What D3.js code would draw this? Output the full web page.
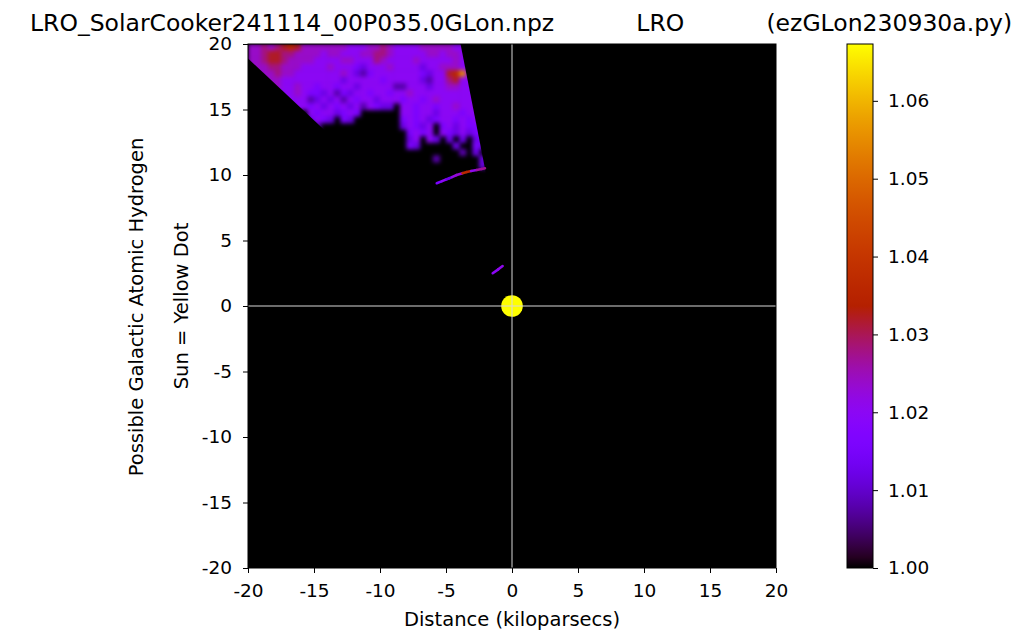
<!DOCTYPE html>
<html><head><meta charset="utf-8">
<script src="https://cdn.jsdelivr.net/npm/d3@7"></script>
<style>
html,body{margin:0;padding:0;background:#fff;}
svg{display:block;font-family:"DejaVu Sans",sans-serif;}
</style></head><body>
<svg id="chart" width="1024" height="644"></svg>
<script>
// ---------- data ----------
const titleText = "LRO_SolarCooker241114_00P035.0GLon.npz           LRO           (ezGLon230930a.py)";
const xLabel = "Distance (kiloparsecs)";
const yLabel1 = "Possible Galactic Atomic Hydrogen";
const yLabel2 = "Sun = Yellow Dot";
const axisTicks = [-20, -15, -10, -5, 0, 5, 10, 15, 20];
const axisDomain = [-20, 20];
const colorTicks = [1.00, 1.01, 1.02, 1.03, 1.04, 1.05, 1.06];
const colorDomain = [1.0, 1.0673];
// level codes used in the grid rows and the value each stands for
const levelCodes = ["0","1","2","3","4","5","6","7","8","9","a","b","c"];
const levelValues = [1.000,1.004,1.008,1.012,1.016,1.020,1.024,1.028,1.032,1.036,1.045,1.055,1.062];
// grid: 0.5 kpc cells, x from -20 (left), y from 20 (top) downwards; "." = no signal
const gridLeft = -20, gridTop = 20, gridStep = 0.5;
const gridRows = [
  "667678 986666 666555 667655 556666 655555",
  "667887 766665 665556 677655 555665 665555",
  "667887 666655 556655 576555 565555 565555",
  "666776 665555 655543 555655 553556 665555",
  "666676 655555 556532 455555 554355 89b555",
  "556665 555555 553555 554555 553255 785555",
  "555665 565545 545535 555522 555355 665555",
  "555555 565443 524355 455455 655555 555555",
  "555555 555235 352545 535554 554565 555555",
  "555555 555453 545352 5433.5 545545 565555",
  "...... ...545 53454. .....5 545535 554555",
  "...... ...354 3.43.. .....4 545345 545455",
  "...... ....2. ...... .....3 5435.4 535445",
  "...... ...... ...... ...... 4545.5 435344",
  "...... ...... ...... ...... 35.53. 3.3.34",
  "...... ...... ...... ...... 43.... .3..43",
  "...... ...... ...... ...... ...... ..2.3.",
  "...... ...... ...... ...... ....2. .....3",
  "...... ...... ...... ...... ...... .....3"
];
// observed sector (rays from the Sun) that bounds the survey
const wedge = [[0, 0], [-20, 18.9], [-20, 20], [-3.9, 20]];
// thin arc near y = 10 kpc: [x, y, value]
const arcPts = [
  [-5.70, 9.37, 1.012], [-5.30, 9.53, 1.020], [-4.95, 9.67, 1.020], [-4.75, 9.75, 1.004],
  [-4.55, 9.84, 1.020], [-4.19, 10.00, 1.024], [-3.75, 10.14, 1.022], [-3.43, 10.23, 1.050],
  [-3.10, 10.30, 1.020], [-2.67, 10.38, 1.022], [-2.30, 10.46, 1.030], [-2.05, 10.51, 1.024]
];
const streakPts = [[-1.46, 2.50, 1.016], [-1.04, 2.80, 1.024], [-0.71, 3.05, 1.018]];
const sunPos = [0, 0];

// ---------- layout ----------
const svg = d3.select("#chart");
const plot = {left: 248, right: 776, top: 44, bottom: 568};
const cbar = {left: 847, right: 873};
const x = d3.scaleLinear(axisDomain, [plot.left, plot.right]);
const y = d3.scaleLinear(axisDomain, [plot.bottom, plot.top]);

function gnuplot(t) {
  t = Math.max(0, Math.min(1, t));
  const r = Math.sqrt(t), g = t * t * t, b = Math.max(0, Math.min(1, Math.sin(2 * Math.PI * t)));
  return d3.rgb(r * 255, g * 255, b * 255).toString();
}
const color = d3.scaleSequential(gnuplot).domain(colorDomain).clamp(true);

const defs = svg.append("defs");
defs.append("clipPath").attr("id", "wedgeClip")
  .append("polygon").attr("points", wedge.map(p => [x(p[0]), y(p[1])].join(",")).join(" "));
defs.append("clipPath").attr("id", "plotClip")
  .append("rect").attr("x", plot.left).attr("y", plot.top)
  .attr("width", plot.right - plot.left).attr("height", plot.bottom - plot.top);

// background (value 1.00 = black)
svg.append("rect").attr("x", plot.left).attr("y", plot.top)
  .attr("width", plot.right - plot.left).attr("height", plot.bottom - plot.top)
  .attr("fill", color(colorDomain[0]));

// cells
const cells = [];
gridRows.forEach((row, r) => {
  const codes = row.replace(/ /g, "");
  for (let c = 0; c < codes.length; c++) {
    const k = levelCodes.indexOf(codes[c]);
    if (k < 0) continue;
    cells.push({x0: gridLeft + c * gridStep, y1: gridTop - r * gridStep, v: levelValues[k]});
  }
});
const gOuter = svg.append("g").attr("clip-path", "url(#wedgeClip)");
const gCells = gOuter.append("g").style("filter", "blur(2.2px)");
gCells.append("rect").attr("x", x(-21)).attr("y", y(21))
  .attr("width", x(1) - x(-21)).attr("height", y(-1) - y(21)).attr("fill", color(colorDomain[0]));
gCells.selectAll("rect.cell").data(cells).join("rect").attr("class", "cell")
  .attr("x", d => x(d.x0))
  .attr("y", d => y(d.y1))
  .attr("width", d => x(d.x0 + gridStep) - x(d.x0) + 0.6)
  .attr("height", d => y(d.y1 - gridStep) - y(d.y1) + 0.6)
  .attr("fill", d => color(d.v));

function drawTrace(pts, w) {
  const segs = d3.pairs(pts);
  svg.append("g").attr("clip-path", "url(#plotClip)")
    .selectAll("line").data(segs).join("line")
    .attr("x1", d => x(d[0][0])).attr("y1", d => y(d[0][1]))
    .attr("x2", d => x(d[1][0])).attr("y2", d => y(d[1][1]))
    .attr("stroke", d => color((d[0][2] + d[1][2]) / 2))
    .attr("stroke-width", w).attr("stroke-linecap", "round");
}
drawTrace(arcPts, 2.6);
drawTrace(streakPts, 2.6);

// sun
svg.append("circle").attr("cx", x(sunPos[0])).attr("cy", y(sunPos[1])).attr("r", 10.8).attr("fill", "#ffff00");

// cross hairs
svg.append("line").attr("x1", x(0)).attr("x2", x(0)).attr("y1", plot.top).attr("y2", plot.bottom)
  .attr("stroke", "#d8d8d8").attr("stroke-width", 1);
svg.append("line").attr("x1", plot.left).attr("x2", plot.right).attr("y1", y(0)).attr("y2", y(0))
  .attr("stroke", "#d8d8d8").attr("stroke-width", 1);

// frame
svg.append("rect").attr("x", plot.left).attr("y", plot.top)
  .attr("width", plot.right - plot.left).attr("height", plot.bottom - plot.top)
  .attr("fill", "none").attr("stroke", "#000").attr("stroke-width", 1);

// axes
const fmt = d => String(d);
const tickFont = "18.5px";
const xAxis = svg.append("g").attr("transform", `translate(0,${plot.bottom})`)
  .call(d3.axisBottom(x).tickValues(axisTicks).tickFormat(fmt).tickSize(5).tickSizeOuter(0).tickPadding(11));
const yAxis = svg.append("g").attr("transform", `translate(${plot.left},0)`)
  .call(d3.axisLeft(y).tickValues(axisTicks).tickFormat(fmt).tickSize(5).tickSizeOuter(0).tickPadding(11));
[xAxis, yAxis].forEach(a => {
  a.select(".domain").remove();
  a.selectAll("text").attr("font-size", tickFont).attr("font-family", "DejaVu Sans").attr("fill", "#000");
  a.selectAll("line").attr("stroke", "#000");
});

// colorbar
const cy = d3.scaleLinear(colorDomain, [plot.bottom, plot.top]);
const grad = defs.append("linearGradient").attr("id", "cbGrad")
  .attr("x1", 0).attr("y1", 1).attr("x2", 0).attr("y2", 0);
d3.range(0, 1.0001, 0.02).forEach(t => {
  grad.append("stop").attr("offset", t).attr("stop-color", color(colorDomain[0] + t * (colorDomain[1] - colorDomain[0])));
});
svg.append("rect").attr("x", cbar.left).attr("y", plot.top)
  .attr("width", cbar.right - cbar.left).attr("height", plot.bottom - plot.top)
  .attr("fill", "url(#cbGrad)").attr("stroke", "#000").attr("stroke-width", 1);
const cAxis = svg.append("g").attr("transform", `translate(${cbar.right},0)`)
  .call(d3.axisRight(cy).tickValues(colorTicks).tickFormat(d3.format(".2f")).tickSize(5).tickSizeOuter(0).tickPadding(10));
cAxis.select(".domain").remove();
cAxis.selectAll("text").attr("font-size", tickFont).attr("font-family", "DejaVu Sans").attr("fill", "#000");
cAxis.selectAll("line").attr("stroke", "#000");

// labels
svg.append("text").attr("x", 512).attr("y", 626).attr("text-anchor", "middle")
  .attr("font-size", "19.5px").text(xLabel);
svg.append("text").attr("transform", "translate(143,307) rotate(-90)").attr("text-anchor", "middle")
  .attr("font-size", "19.5px").text(yLabel1);
svg.append("text").attr("transform", "translate(188,306) rotate(-90)").attr("text-anchor", "middle")
  .attr("font-size", "19.5px").text(yLabel2);
svg.append("text").attr("x", 30).attr("y", 31).attr("font-size", "23.5px")
  .style("white-space", "pre").text(titleText);
</script>
</body></html>
